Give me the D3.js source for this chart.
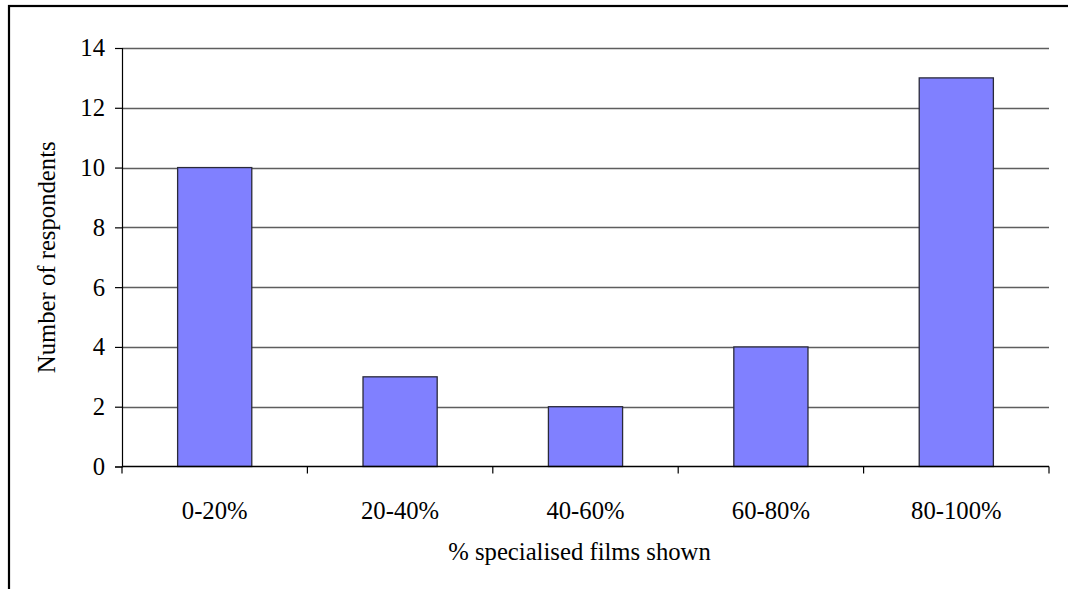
<!DOCTYPE html>
<html>
<head>
<meta charset="utf-8">
<script src="https://cdn.jsdelivr.net/npm/d3@7"></script>
<style>
  html, body { margin: 0; padding: 0; background: #fff; }
  svg { display: block; }
  text { font-family: "Liberation Serif", "Times New Roman", serif; fill: #000; }
</style>
</head>
<body>
<svg id="chart" width="1068" height="589"></svg>
<script>
// Survey results: share of specialised films in each venue's programme
const categories = ["0-20%", "20-40%", "40-60%", "60-80%", "80-100%"];
const respondents = [10, 3, 2, 4, 13];
const yTicks = [0, 2, 4, 6, 8, 10, 12, 14];

const svg = d3.select("#chart");
const plot = { left: 122, right: 1049, top: 48, bottom: 466.5 };
const fontSize = "24.7px";

// outer frame
svg.append("rect")
  .attr("x", 9).attr("y", 6)
  .attr("width", 1200).attr("height", 800)
  .attr("fill", "none").attr("stroke", "#000").attr("stroke-width", 2.2);

const x = d3.scaleBand().domain(categories).range([plot.left, plot.right]).padding(0);
const y = d3.scaleLinear().domain([0, 14]).range([plot.bottom, plot.top]);

// horizontal gridlines
svg.append("g")
  .selectAll("line")
  .data(yTicks.filter(d => d > 0))
  .join("line")
  .attr("x1", plot.left).attr("x2", plot.right)
  .attr("y1", d => Math.round(y(d)) + 0.5).attr("y2", d => Math.round(y(d)) + 0.5)
  .attr("stroke", "#5e5e5e").attr("stroke-width", 1.3);

// bars (bar width is 40% of the category band)
const barW = x.bandwidth() * 0.4;
svg.append("g")
  .selectAll("rect")
  .data(categories.map((c, i) => ({ c, v: respondents[i] })))
  .join("rect")
  .attr("x", d => x(d.c) + (x.bandwidth() - barW) / 2)
  .attr("y", d => y(d.v))
  .attr("width", barW)
  .attr("height", d => y(0) - y(d.v))
  .attr("fill", "#8080ff")
  .attr("stroke", "#2a2a3a").attr("stroke-width", 1.3);

// y axis
const yAxis = svg.append("g")
  .attr("transform", `translate(${plot.left},0)`)
  .call(d3.axisLeft(y).tickValues(yTicks).tickSize(7).tickPadding(10).tickFormat(d3.format("d")));
yAxis.select(".domain").attr("stroke", "#000").attr("stroke-width", 1.2);
yAxis.selectAll(".tick line").attr("stroke", "#000").attr("stroke-width", 1.2);
yAxis.selectAll(".tick text")
  .style("font-family", '"Liberation Serif", "Times New Roman", serif')
  .style("font-size", fontSize).attr("fill", "#000");

// x axis: ticks at category boundaries
const xAxisG = svg.append("g").attr("transform", `translate(0,${plot.bottom})`);
xAxisG.append("line")
  .attr("x1", plot.left).attr("x2", plot.right)
  .attr("stroke", "#000").attr("stroke-width", 1.4);
const boundaries = categories.map(c => x(c)).concat([x(categories[categories.length - 1]) + x.bandwidth()]);
xAxisG.selectAll("line.tick")
  .data(boundaries)
  .join("line")
  .attr("class", "tick")
  .attr("x1", d => d).attr("x2", d => d)
  .attr("y1", 0).attr("y2", 7)
  .attr("stroke", "#000").attr("stroke-width", 1.2);
xAxisG.selectAll("text.cat")
  .data(categories)
  .join("text")
  .attr("class", "cat")
  .attr("x", d => x(d) + x.bandwidth() / 2)
  .attr("y", 52)
  .attr("text-anchor", "middle")
  .style("font-size", fontSize)
  .text(d => d);

// axis titles
svg.append("text")
  .attr("x", (plot.left + plot.right) / 2 - 6)
  .attr("y", 560)
  .attr("text-anchor", "middle")
  .style("font-size", fontSize)
  .text("% specialised films shown");

svg.append("text")
  .attr("transform", `translate(55,${(plot.top + plot.bottom) / 2}) rotate(-90)`)
  .attr("text-anchor", "middle")
  .style("font-size", fontSize)
  .text("Number of respondents");
</script>
</body>
</html>
